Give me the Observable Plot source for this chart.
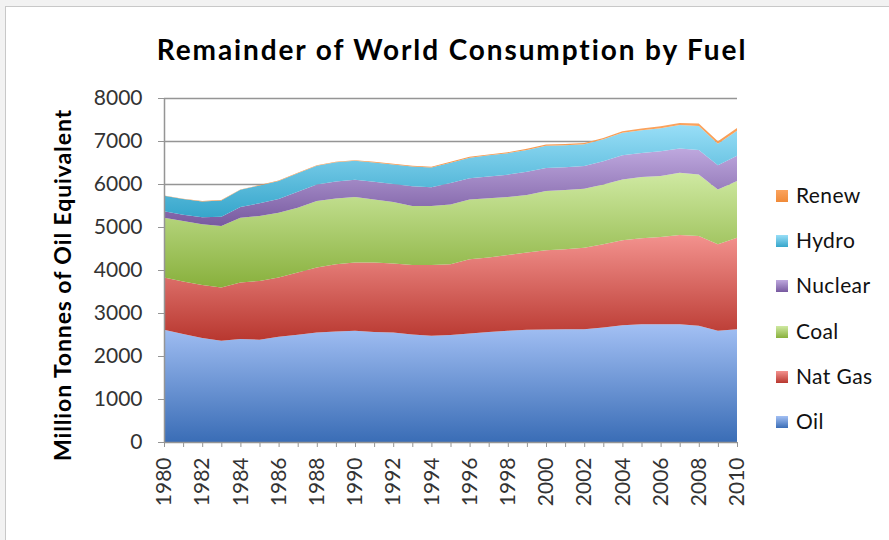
<!DOCTYPE html>
<html>
<head>
<meta charset="utf-8">
<script src="https://cdn.jsdelivr.net/npm/d3@7"></script>
<script src="https://cdn.jsdelivr.net/npm/@observablehq/plot@0.6"></script>
<style>
  html, body { margin: 0; padding: 0; background: #f2f2f2; }
  #page { position: relative; width: 889px; height: 540px; overflow: hidden; font-family: Lato, "Open Sans", sans-serif; }
  #frame { position: absolute; left: 5px; top: 6px; width: 1000px; height: 1000px; background: #fff; border-left: 1px solid #c8c8c8; border-top: 1px solid #c8c8c8; }
  #title { position: absolute; left: 0; top: 32px; width: 904px; text-align: center; font-weight: bold; font-size: 28px; letter-spacing: 1.9px; color: #000; }
  #chart { position: absolute; left: 0; top: 85px; }
  #legend { position: absolute; left: 776px; top: 184px; }
  .item { position: relative; height: 45.2px; font-size: 21px; color: #111; }
  .sw { position: absolute; left: 0; top: 6px; width: 12px; height: 12px; }
  .lb { position: absolute; left: 20px; top: -2px; white-space: nowrap; letter-spacing: 0.4px; }
  #ylab { position: absolute; left: 62px; top: 285px; transform: translate(-50%, -50%) rotate(-90deg); font-weight: bold; font-size: 23px; letter-spacing: 0.9px; white-space: nowrap; color: #000; }
</style>
</head>
<body>
<div id="page">
  <div id="frame"></div>
  <div id="title">Remainder of World Consumption by Fuel</div>
  <div id="ylab">Million Tonnes of Oil Equivalent</div>
  <div id="chart"></div>
  <div id="legend"></div>
</div>
<script>
const years = [1980,1981,1982,1983,1984,1985,1986,1987,1988,1989,1990,1991,1992,1993,1994,1995,1996,1997,1998,1999,2000,2001,2002,2003,2004,2005,2006,2007,2008,2009,2010];
const oil     = [2610,2510,2417,2355,2394,2378,2448,2494,2548,2571,2587,2560,2548,2500,2471,2486,2525,2556,2587,2610,2618,2625,2625,2664,2718,2741,2741,2741,2703,2587,2625];
const natGas  = [1214,1221,1237,1237,1314,1369,1376,1446,1508,1562,1585,1612,1601,1618,1647,1648,1725,1733,1763,1795,1841,1857,1895,1934,1973,1996,2027,2073,2088,2011,2127];
const coal    = [1392,1408,1408,1431,1508,1508,1508,1508,1547,1532,1524,1470,1431,1369,1369,1392,1392,1377,1346,1337,1376,1376,1369,1392,1415,1423,1416,1447,1431,1276,1315];
const nuclear = [151,145,162,214,249,299,320,371,383,393,401,409,420,460,436,496,491,510,522,541,537,529,527,539,565,560,575,565,568,561,589];
const hydro   = [360,365,370,380,400,410,420,430,440,445,445,450,455,460,460,475,480,490,500,510,520,515,510,510,520,530,540,545,560,500,580];
const renew   = [8,8,9,9,10,10,11,11,12,12,13,14,15,16,17,18,19,20,22,24,26,28,30,33,36,40,44,49,55,60,68];
const fuels = ["Oil","Nat Gas","Coal","Nuclear","Hydro","Renew"];
const yTicks = [0,1000,2000,3000,4000,5000,6000,7000,8000];

const seriesValues = {"Oil": oil, "Nat Gas": natGas, "Coal": coal, "Nuclear": nuclear, "Hydro": hydro, "Renew": renew};
const gradients = {
  "Oil":     ["#a3c0f4", "#3a6db6"],
  "Nat Gas": ["#f3928e", "#b8372f"],
  "Coal":    ["#cfe9a2", "#88b03c"],
  "Nuclear": ["#bea8de", "#77599f"],
  "Hydro":   ["#98def7", "#36a6cb"],
  "Renew":   ["#fba35e", "#f08a38"]
};
const gid = f => "grad-" + f.replace(/\s+/g, "");

const data = fuels.flatMap(f => years.map((yr, i) => ({year: yr, fuel: f, value: seriesValues[f][i]})));

const defsMark = () => {
  const defs = d3.create("svg:defs");
  for (const f of fuels) {
    const lg = defs.append("linearGradient").attr("id", gid(f)).attr("x1", 0).attr("y1", 0).attr("x2", 0).attr("y2", 1);
    lg.append("stop").attr("offset", "0%").attr("stop-color", gradients[f][0]);
    lg.append("stop").attr("offset", "100%").attr("stop-color", gradients[f][1]);
  }
  return defs.node();
};

const chart = Plot.plot({
  width: 889,
  height: 455,
  marginTop: 13,
  marginBottom: 98,
  marginLeft: 164,
  marginRight: 152,
  style: {fontFamily: "Lato, 'Open Sans', sans-serif", fontSize: "21px", color: "#222", background: "transparent", overflow: "visible"},
  x: {type: "linear", domain: [1980, 2010]},
  y: {domain: [0, 8000]},
  color: {domain: fuels, range: fuels.map(f => `url(#${gid(f)})`)},
  marks: [
    defsMark,
    Plot.ruleY(yTicks.slice(1), {stroke: "#959595", strokeWidth: 1.5}),
    Plot.areaY(data, {x: "year", y: "value", z: "fuel", fill: "fuel", order: fuels}),
    Plot.ruleX([1980], {stroke: "#959595", strokeWidth: 1.5}),
    Plot.ruleY([0], {stroke: "#959595", strokeWidth: 1.5}),
    Plot.axisY({ticks: yTicks, tickSize: 6, tickPadding: 16, stroke: "#959595", tickFormat: d => String(d), label: null, fill: "#333"}),
    Plot.axisX({ticks: years, tickSize: 5, tickPadding: 10, tickRotate: -90, stroke: "#959595", tickFormat: d => d % 2 === 0 ? String(d) : "", label: null, fill: "#333"})
  ]
});
document.getElementById("chart").appendChild(chart);

const legend = document.getElementById("legend");
for (const f of fuels.slice().reverse()) {
  const item = document.createElement("div");
  item.className = "item";
  const sw = document.createElement("div");
  sw.className = "sw";
  sw.style.background = `linear-gradient(${gradients[f][0]}, ${gradients[f][1]})`;
  const lb = document.createElement("div");
  lb.className = "lb";
  lb.textContent = f;
  item.appendChild(sw);
  item.appendChild(lb);
  legend.appendChild(item);
}
</script>
</body>
</html>
